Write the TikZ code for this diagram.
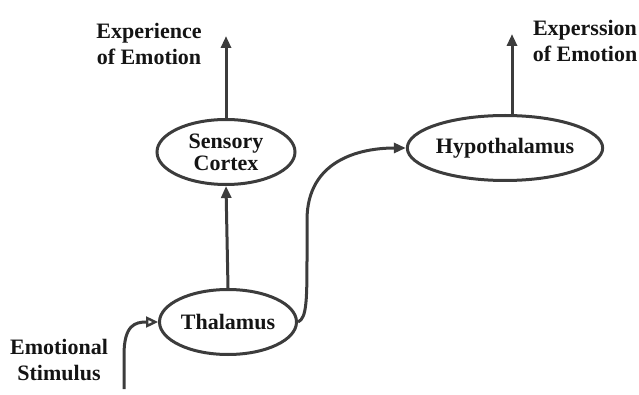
\documentclass[tikz,border=0pt]{standalone}
\usepackage{fontspec}
\setmainfont{Liberation Serif}
\usetikzlibrary{arrows.meta,shapes.geometric}
\definecolor{linegray}{HTML}{3C3C3C}
\definecolor{textblack}{HTML}{141414}
\begin{document}
\begin{tikzpicture}[x=1pt,y=-1pt,
  region/.style={draw=linegray,line width=3pt,ellipse,inner sep=0pt,
    minimum width=#1,font=\fontsize{22}{25}\selectfont\bfseries,text=textblack,align=center},
  caption/.style={font=\fontsize{22}{26}\selectfont\bfseries,text=textblack,align=center},
  conn/.style={draw=linegray,line width=3pt,-{Triangle[length=12pt,width=10pt]}},
  openconn/.style={draw=linegray,line width=3pt,-{Triangle[open,length=12pt,width=11pt,line width=2.4pt]}}]
\useasboundingbox (0,0) rectangle (639,395);
\node[region=138pt,minimum height=65pt] (cortex) at (226,152) {Sensory\\[-3pt]Cortex};
\node[region=146pt,minimum height=65pt] (hypo) at (505,148) {Hypothalamus};
\node[region=137pt,minimum height=65pt] (thal) at (228,322) {Thalamus};
\node[caption] (exp) at (149,44) {Experience\\of Emotion};
\node[caption] (expr) at (585,41) {Experssion\\of Emotion};
\node[caption] (stim) at (59,360) {Emotional\\Stimulus};
\coordinate (cortexout) at (226,36);
\coordinate (hypoout) at (512,34);
\coordinate (stimin) at (124,389);
\draw[conn] (cortex.north) -- (cortexout);
\draw[conn] (hypoout |- hypo.north) -- (hypoout);
\draw[conn] (thal.north) -- (cortex.south);
\draw[openconn] (stimin) -- (124,355) .. controls (124,325) and (135,322) .. (thal.west);
\draw[conn] (thal.east) .. controls (307,318) and (307,300) .. (307,250)
  -- (307,220) .. controls (307,160) and (360,148) .. (hypo.west);
\end{tikzpicture}
\end{document}
